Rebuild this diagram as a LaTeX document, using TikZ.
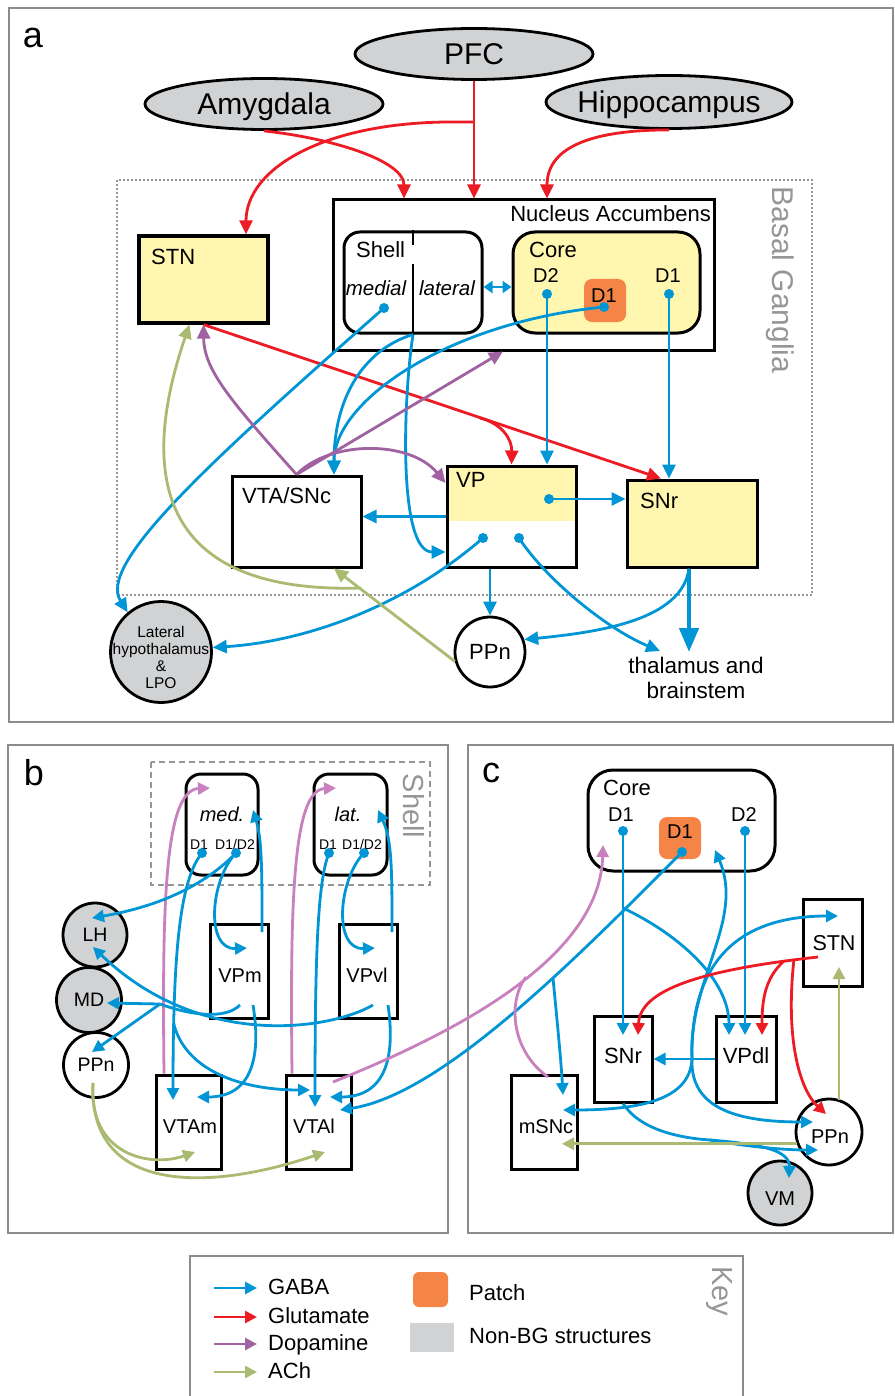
\documentclass[tikz,border=0pt]{standalone}
\usepackage{fontspec}
\setmainfont{Liberation Sans}
\usetikzlibrary{arrows.meta,shapes.geometric,calc}

\definecolor{gaba}{RGB}{0,150,214}
\definecolor{glu}{RGB}{237,28,36}
\definecolor{dopa}{RGB}{160,98,160}
\definecolor{dopalt}{RGB}{200,128,190}
\definecolor{ach}{RGB}{170,186,112}
\definecolor{bgyellow}{RGB}{255,246,175}
\definecolor{patchorange}{RGB}{245,133,70}
\definecolor{nonbg}{RGB}{209,210,212}
\definecolor{framegray}{RGB}{140,140,140}
\definecolor{labelgray}{RGB}{150,150,150}

\newcommand{\fsz}[1]{\fontsize{#1}{#1}\selectfont}

\tikzset{
  nbox/.style 2 args={draw, line width=3pt, minimum width=#1pt, minimum height=#2pt, inner sep=0pt},
  rbox/.style 2 args={nbox={#1}{#2}, rounded corners=16pt, fill=white},
  nucl/.style={circle, draw, line width=2.8pt, inner sep=0pt, fill=white},
  ellip/.style={ellipse, draw, line width=2.8pt, fill=nonbg, inner sep=0pt,
    text height=21.5pt, text depth=0pt, font=\fsz{30}},
  lbl/.style={inner sep=0pt, anchor=base west, font=\fsz{22}},
  clbl/.style={inner sep=0pt, anchor=base, font=\fsz{20}},
  vlbl/.style={inner sep=0pt, rotate=-90, text=labelgray, font=\fsz{29}},
  frame/.style={draw=framegray, line width=2.5pt},
  syn/.style={-{Triangle[length=14pt,width=13pt]}},
  synsm/.style={-{Triangle[length=12pt,width=12pt]}},
  gabaline/.style={draw=gaba, line width=2.8pt},
  gluline/.style={draw=glu, line width=2.8pt},
  dopaline/.style={draw=dopa, line width=2.8pt},
  dopaltline/.style={draw=dopalt, line width=2.8pt},
  achline/.style={draw=ach, line width=2.8pt}
}

\begin{document}
\begin{tikzpicture}[x=1pt,y=-1pt]
  \useasboundingbox (0,0) rectangle (894,1396);
  \fill[white] (0,0) rectangle (894,1396);

  % panel a
  \draw[frame] (9,8) rectangle (893,722);
  \node[inner sep=0pt, font=\fsz{36}] (laba) at (33,38) {a};
  \draw[labelgray, line width=2pt, dash pattern=on 2pt off 2pt] (117,180) rectangle (812,595);
  \node[vlbl, font=\fsz{30}] (bglbl) at (780,280) {Basal Ganglia};

  \path
  node[ellip, minimum width=238pt, minimum height=51pt] (pfc) at (474,54) {\makebox[0pt]{PFC}}
  node[ellip, minimum width=238pt, minimum height=51pt] (amyg) at (264,104) {\makebox[0pt]{Amygdala}}
  node[ellip, minimum width=246pt, minimum height=53pt] (hippo) at (669,102) {\makebox[0pt]{Hippocampus}}
  node[nbox={381}{150}] (nac) at (523.5,275) {}
  node[rbox={138}{101}] (shell) at (413,282.5) {}
  node[rbox={187}{101}, fill=bgyellow, rounded corners=22pt] (core) at (606.5,282.5) {}
  node[fill=patchorange, rounded corners=8pt, minimum width=42pt, minimum height=43pt, inner sep=0pt] (patch) at (605,300.5) {}
  node[nbox={129}{87}, line width=3.2pt, fill=bgyellow] (stn) at (203.5,279.5) {}
  node[nbox={129}{91}, fill=white] (vta) at (296.5,521.5) {}
  node[nbox={129}{101}, path picture={\fill[bgyellow] (path picture bounding box.north west) rectangle ([yshift=-55pt]path picture bounding box.north east);}] (vp) at (511.5,516.5) {}
  node[nbox={130}{87}, fill=bgyellow] (snr) at (692,523.5) {}
  node[nucl, minimum size=70pt, font=\fsz{22}] (ppna) at (490,652) {PPn}
  node[nucl, minimum size=101pt, fill=nonbg] (lha) at (161,652) {}
  ;
  \draw[line width=1.2pt] (shell.north) -- ([yshift=-15pt]shell.north);
  \draw[line width=1.2pt] ([yshift=-34pt]shell.north) -- (shell.south);

  \path
  node[inner sep=0pt, anchor=base east, font=\fsz{22}] (naclbl) at (711,222) {Nucleus Accumbens}
  node[lbl] (shelllbl) at (356,258) {Shell}
  node[lbl] (corelbl) at (529,258) {Core}
  node[clbl, font=\fsz{20.5}\itshape] (medlbl) at (376,295) {medial}
  node[clbl, font=\fsz{20.5}\itshape] (latlbl) at (447,295) {lateral}
  node[clbl] (d2lbl) at (546,283) {D2}
  node[clbl] (d1lbl) at (668,283) {D1}
  node[clbl] (patchlbl) at (604,302) {D1}
  node[lbl] (stnlbl) at (151,265) {STN}
  node[lbl] (vtalbl) at (242,503) {VTA/SNc}
  node[lbl] (vplbl) at (456,487) {VP}
  node[lbl] (snrlbl) at (640,508) {SNr}
  node[inner sep=0pt, anchor=north, align=center, font=\fontsize{15.5}{16.7}\selectfont] (lhalbl) at (161,626.5) {Lateral\\hypothalamus\\\&\\LPO}
  node[inner sep=0pt, anchor=north, align=center, font=\fontsize{22.5}{25}\selectfont] (thal) at (696,657) {thalamus and\\brainstem}
  ;

  \coordinate (pfcfork) at (474,122);
  \coordinate (glufork) at (480,418);
  \coordinate (achfork) at (361,588);
  \coordinate (medial) at (384,308);
  \coordinate (cored2) at (547,294);
  \coordinate (cored1) at (669,294);
  \coordinate (patchd1) at (604,307);
  \coordinate (vpdot) at (549,499);
  \coordinate (vpdotl) at (483,538);
  \coordinate (vpdotr) at (519,538);
  \coordinate (thalin) at (660,651);
  \coordinate (thaltop) at (689,652);

  \draw[gluline, syn] (pfc.south) -- (pfc.south |- nac.north);
  \draw[gluline, syn] (pfcfork) -- (445,122) .. controls (320,124) and (246,170) .. ([xshift=42.5pt]stn.north);
  \draw[gluline, syn] (amyg.south) .. controls (330,138) and (404,160) .. ([xshift=-119.5pt]nac.north);
  \draw[gluline, syn] (hippo.south) .. controls (585,130) and (547,150) .. ([xshift=23.5pt]nac.north);
  \draw[gluline, syn] (stn.south) -- ([xshift=-31pt]snr.north);
  \draw[gluline, syn] (glufork) .. controls (503,424) and (512,440) .. (vp.north);

  \draw[gabaline, syn] (cored2) -- (cored2 |- vp.north);
  \draw[gabaline, syn] (cored1) -- (cored1 |- snr.north);
  \draw[gabaline, syn] (patchd1) .. controls (450,322) and (334,400) .. ([xshift=37.5pt]vta.north);
  \draw[gabaline, syn] (shell.south) .. controls (362,350) and (334,400) .. ([xshift=37.5pt]vta.north);
  \draw[gabaline, syn] (shell.south) .. controls (403,400) and (398,552) .. ([yshift=-35.5pt]vp.west);
  \draw[gabaline, syn] (medial) .. controls (200,470) and (98,565) .. (lha.130);
  \draw[gabaline, {Triangle[length=9pt,width=12pt]}-{Triangle[length=9pt,width=12pt]}] ([yshift=-4.5pt]shell.east) -- ([yshift=-4.5pt]core.west);
  \draw[gabaline, syn] (vpdot) -- (vpdot -| snr.west);
  \draw[gabaline, syn] (vp.west) -- (vp.west -| vta.east);
  \draw[gabaline, syn] (vpdotl) .. controls (400,610) and (300,642) .. (lha.5);
  \draw[gabaline, syn] (vpdotr) .. controls (545,578) and (605,628) .. (thalin);
  \draw[gabaline, syn] (ppna.north |- vp.south) -- (ppna.north);
  \draw[gabaline, line width=4.5pt, -{Triangle[length=24pt,width=19pt]}] ([xshift=-3pt]snr.south) -- (thaltop);
  \draw[gabaline, syn] ([xshift=-3pt]snr.south) .. controls (682,620) and (600,632) .. (ppna.20);

  \draw[dopaline, syn] (vta.north) .. controls (230,400) and (204,370) .. (stn.south);
  \draw[dopaline, syn] (vta.north) -- ([xshift=-20.5pt]nac.south);
  \draw[dopaline, syn] (vta.north) .. controls (330,440) and (410,440) .. ([yshift=33.5pt]vp.west);

  \draw[achline, syn] (ppna.195) -- ([xshift=37.5pt]vta.south);
  \draw[achline, syn] (achfork) .. controls (130,595) and (150,440) .. ([xshift=-14pt]stn.south);

  \foreach \d in {medial,cored2,cored1,patchd1,vpdot,vpdotl,vpdotr}
    \fill[gaba] (\d) circle (5pt);

  % panel b
  \draw[frame] (8,745) rectangle (448,1233);
  \node[inner sep=0pt, font=\fsz{36}] (labb) at (34,773) {b};
  \draw[labelgray, line width=2pt, dash pattern=on 6pt off 4pt] (151,762) rectangle (430,885);
  \node[vlbl] (shellb) at (413.5,806) {Shell};

  \path
  node[rbox={72}{101}, rounded corners=15pt] (med) at (222,824.5) {}
  node[rbox={73}{101}, rounded corners=15pt] (lat) at (350.5,824.5) {}
  node[nucl, minimum size=64pt, fill=nonbg, font=\fsz{19.5}] (lhb) at (95,935) {LH}
  node[nucl, minimum size=65pt, fill=nonbg, font=\fsz{19.5}] (md) at (89,1000) {MD}
  node[nucl, minimum size=65pt, font=\fsz{19.5}] (ppnb) at (96,1065) {PPn}
  node[nbox={58}{94}] (vpm) at (239,971) {}
  node[nbox={58}{94}] (vpvl) at (368,971) {}
  node[nbox={65}{94}] (vtam) at (188.5,1122) {}
  node[nbox={65}{94}] (vtal) at (318.5,1122) {}
  ;
  \path
  node[clbl, font=\fsz{20}\itshape] (medtxt) at (222,821) {med.}
  node[clbl, font=\fsz{14}] (medd1lbl) at (199,849) {D1}
  node[clbl, font=\fsz{14}] (medd12lbl) at (235,849) {D1/D2}
  node[clbl, font=\fsz{20}\itshape] (lattxt) at (348,821) {lat.}
  node[clbl, font=\fsz{14}] (latd1lbl) at (328,849) {D1}
  node[clbl, font=\fsz{14}] (latd12lbl) at (362,849) {D1/D2}
  node[clbl] (vpmlbl) at (240,982) {VPm}
  node[clbl] (vpvllbl) at (367,982) {VPvl}
  node[clbl] (vtamlbl) at (190,1133) {VTAm}
  node[clbl] (vtallbl) at (314,1133) {VTAl}
  ;

  \coordinate (medd1) at (202,853);
  \coordinate (medd12) at (236,853);
  \coordinate (latd1) at (329,853);
  \coordinate (latd12) at (364,853);
  \coordinate (medin) at (210,788);
  \coordinate (latin) at (336,788);
  \coordinate (medr) at (253,810);
  \coordinate (latr) at (378,810);
  \coordinate (vpmin) at (247,948);
  \coordinate (vpvlin) at (375,948);
  \coordinate (vpmup) at (262,932);
  \coordinate (vpvlup) at (392,932);
  \coordinate (vpma) at (240,1005);
  \coordinate (vpmb) at (253,1005);
  \coordinate (vpvla) at (373,1005);
  \coordinate (vpvlb) at (388,1005);
  \coordinate (bfork1) at (160,1004);
  \coordinate (bfork2) at (173.5,1023);
  \coordinate (lhbin1) at (92,918);
  \coordinate (lhbin2) at (93,947);
  \coordinate (mdin) at (107,1003);
  \coordinate (ppnbin) at (92,1052);
  \coordinate (ppnbach) at (93,1083);
  \coordinate (vtamin1) at (173,1100);
  \coordinate (vtamin2) at (197,1097);
  \coordinate (vtamach) at (195,1152);
  \coordinate (vtalin1) at (310,1090);
  \coordinate (vtalin2) at (315,1107);
  \coordinate (vtalin3) at (330,1097);
  \coordinate (vtalin4) at (340,1110);
  \coordinate (vtalach) at (325,1152);
  \coordinate (vtalda) at (333,1082);

  \draw[dopaltline, synsm] ([xshift=-24.5pt]vtam.north) .. controls (162,900) and (165,790) .. (medin);
  \draw[dopaltline, synsm] ([xshift=-26.5pt]vtal.north) .. controls (290,900) and (293,790) .. (latin);
  \draw[gabaline, synsm] (medd1) .. controls (180,880) and (173,950) .. (vtamin1);
  \draw[gabaline, synsm] (bfork2) .. controls (185,1070) and (240,1090) .. (vtalin1);
  \draw[gabaline, synsm] (medd12) .. controls (200,890) and (150,908) .. (lhbin1);
  \draw[gabaline, synsm] (medd12) .. controls (210,880) and (205,950) .. (vpmin);
  \draw[gabaline, synsm] (vpmup) .. controls (262,870) and (262,840) .. (medr);
  \draw[gabaline] (vpma) .. controls (225,1020) and (190,1015) .. (bfork1);
  \draw[gabaline, synsm] (bfork1) -- (mdin);
  \draw[gabaline, synsm] (bfork1) -- (ppnbin);
  \draw[gabaline, synsm] (vpvla) .. controls (330,1030) and (200,1050) .. (lhbin2);
  \draw[gabaline, synsm] (vpmb) .. controls (262,1060) and (250,1097) .. (vtamin2);
  \draw[gabaline, synsm] (latd1) .. controls (318,880) and (315,950) .. (vtalin2);
  \draw[gabaline, synsm] (latd12) .. controls (338,880) and (333,950) .. (vpvlin);
  \draw[gabaline, synsm] (vpvlup) .. controls (392,870) and (392,840) .. (latr);
  \draw[gabaline, synsm] (vpvlb) .. controls (396,1060) and (384,1097) .. (vtalin3);
  \draw[achline, synsm] (ppnbach) .. controls (88,1155) and (150,1168) .. (vtamach);
  \draw[achline, synsm] (ppnbach) .. controls (88,1200) and (220,1188) .. (vtalach);

  \foreach \d in {medd1,medd12,latd1,latd12}
    \fill[gaba] (\d) circle (5pt);

  % panel c
  \draw[frame] (468,745) rectangle (893,1233);
  \node[inner sep=0pt, font=\fsz{36}] (labc) at (491,773) {c};

  \path
  node[rbox={187}{101}, rounded corners=25pt] (corec) at (681.5,820.5) {}
  node[fill=patchorange, rounded corners=8pt, minimum size=42pt, inner sep=0pt] (patchc) at (680,838) {}
  node[nbox={59}{87}] (stnc) at (832.5,942.5) {}
  node[nbox={58}{86}] (snrc) at (623,1059) {}
  node[nbox={60}{86}] (vpdl) at (746,1059) {}
  node[nbox={66}{94}] (msnc) at (544,1122) {}
  node[nucl, minimum size=66pt] (ppnc) at (829,1132) {}
  node[nucl, minimum size=64pt, fill=nonbg] (vm) at (780,1193) {}
  ;
  \path
  node[lbl] (corectxt) at (603,795) {Core}
  node[clbl] (cd1lbl) at (621,821) {D1}
  node[clbl] (cd2lbl) at (744,821) {D2}
  node[clbl] (cpatchlbl) at (680,838) {D1}
  node[clbl, font=\fsz{21.5}] (stnclbl) at (834,950) {STN}
  node[clbl, font=\fsz{22}] (snrclbl) at (623,1063) {SNr}
  node[clbl, font=\fsz{22}] (vpdllbl) at (746,1063) {VPdl}
  node[clbl] (msnclbl) at (546,1133) {mSNc}
  node[clbl] (ppnclbl) at (830,1143) {PPn}
  node[clbl] (vmlbl) at (780,1205) {VM}
  ;

  \coordinate (cd1) at (623,831);
  \coordinate (cd2) at (745,831);
  \coordinate (cpd1) at (682,852);
  \coordinate (cfork1) at (623,908);
  \coordinate (cfork2) at (553,978);
  \coordinate (cdajoin) at (526,977);
  \coordinate (corein) at (715,850);
  \coordinate (coredain) at (603,845);
  \coordinate (snrin1) at (623,1035);
  \coordinate (snrin2) at (638,1035);
  \coordinate (vpdlin1) at (729,1035);
  \coordinate (vpdlin2) at (745,1035);
  \coordinate (vpdlin3) at (762,1035);
  \coordinate (vpdlfork) at (692,1059);
  \coordinate (stncin) at (838,916);
  \coordinate (stncout) at (818,957);
  \coordinate (stncach) at (839,967);
  \coordinate (redfork1) at (784,961);
  \coordinate (redfork2) at (794,959);
  \coordinate (msncin1) at (563,1095);
  \coordinate (msncin2) at (563,1110);
  \coordinate (msncach) at (562,1143);
  \coordinate (msncda) at (548,1077);
  \coordinate (ppncin1) at (813,1122);
  \coordinate (ppncin2) at (818,1150);
  \coordinate (ppncin3) at (826,1114);
  \coordinate (ppncup) at (839,1100);
  \coordinate (snrfork) at (710,1140);
  \coordinate (vmin) at (789,1178);

  \draw[gabaline, synsm] (cd1) -- (snrin1);
  \draw[gabaline, synsm] (cd2) -- (vpdlin2);
  \draw[gabaline, synsm] (cfork1) .. controls (680,935) and (729,980) .. (vpdlin1);
  \draw[gabaline, synsm] (vpdl.west) -- (vpdl.west -| snrc.east);
  \draw[gabaline, synsm] (vpdlfork) .. controls (688,980) and (745,920) .. (corein);
  \draw[gabaline, synsm] (vpdlfork) .. controls (690,960) and (740,916) .. (stncin);
  \draw[gabaline, synsm] (vpdlfork) .. controls (690,1100) and (640,1110) .. (msncin2);
  \draw[gabaline, synsm] (vpdlfork) .. controls (690,1110) and (740,1122) .. (ppncin1);
  \draw[gabaline, synsm] (cpd1) .. controls (570,965) and (440,1095) .. (vtalin4);
  \draw[gabaline, synsm] (cfork2) .. controls (557,1020) and (561,1060) .. (msncin1);
  \draw[gabaline] (snrc.south) .. controls (640,1130) and (680,1138) .. (snrfork);
  \draw[gabaline, synsm] (snrfork) .. controls (760,1144) and (790,1150) .. (vmin);
  \draw[gabaline, synsm] (snrfork) .. controls (750,1147) and (785,1150) .. (ppncin2);
  \draw[gluline, synsm] (stncout) .. controls (700,970) and (640,990) .. (snrin2);
  \draw[gluline, synsm] (redfork1) .. controls (765,978) and (762,1000) .. (vpdlin3);
  \draw[gluline, synsm] (redfork2) .. controls (785,1040) and (800,1090) .. (ppncin3);
  \draw[achline, synsm] (ppncup) -- (stncach);
  \draw[achline, synsm] (ppnc.200) -- (ppnc.200 -| msncach);
  \draw[dopaltline, synsm] (vtalda) .. controls (450,1035) and (600,960) .. (coredain);
  \draw[dopaltline] (msncda) .. controls (510,1050) and (508,1000) .. (cdajoin);

  \foreach \d in {cd1,cd2,cpd1}
    \fill[gaba] (\d) circle (5pt);

  % key
  \draw[frame] (190,1398) |- (743,1256) -- (743,1398);
  \node[vlbl] (keylbl) at (719,1291) {Key};
  \path
  node[lbl] (kgaba) at (268,1294) {GABA}
  node[lbl] (kglu) at (268,1323) {Glutamate}
  node[lbl] (kdopa) at (268,1350) {Dopamine}
  node[lbl] (kach) at (268,1378) {ACh}
  node[fill=patchorange, rounded corners=6pt, minimum size=35pt, inner sep=0pt] (kpatch) at (430.5,1289.5) {}
  node[fill=nonbg, minimum width=44pt, minimum height=29pt, inner sep=0pt] (knonbg) at (432,1337.5) {}
  node[lbl] (kpatchlbl) at (469,1300) {Patch}
  node[lbl] (knonbglbl) at (469,1343) {Non-BG structures}
  ;
  \draw[gabaline, synsm] ([xshift=-54pt,yshift=6pt]kgaba.base west) -- ([xshift=-11pt,yshift=6pt]kgaba.base west);
  \draw[gluline, synsm] ([xshift=-54pt,yshift=6pt]kglu.base west) -- ([xshift=-11pt,yshift=6pt]kglu.base west);
  \draw[dopaline, synsm] ([xshift=-54pt,yshift=6pt]kdopa.base west) -- ([xshift=-11pt,yshift=6pt]kdopa.base west);
  \draw[achline, synsm] ([xshift=-54pt,yshift=6pt]kach.base west) -- ([xshift=-11pt,yshift=6pt]kach.base west);
\end{tikzpicture}
\end{document}
